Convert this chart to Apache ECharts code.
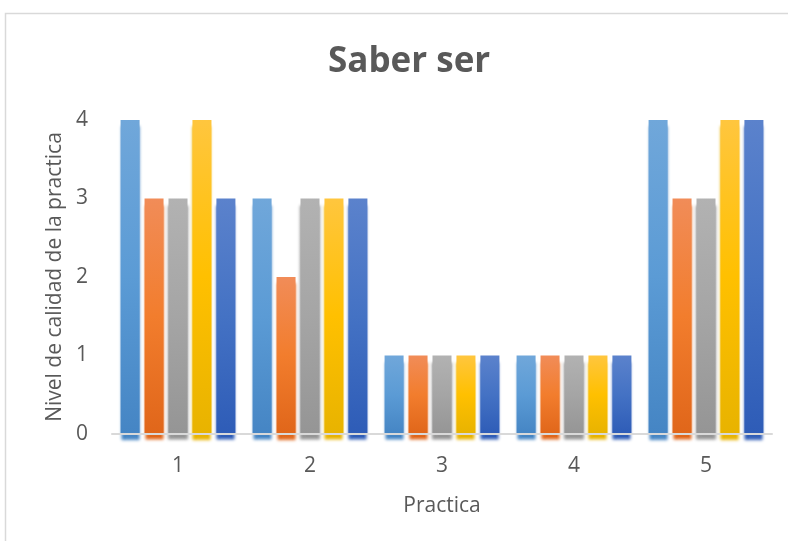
<!DOCTYPE html>
<html>
<head>
<meta charset="utf-8">
<script src="https://cdn.jsdelivr.net/npm/echarts@6/dist/echarts.min.js"></script>
<style>
html,body{margin:0;padding:0;background:#fff;}
#chart{width:788px;height:541px;}
</style>
</head>
<body>
<div id="chart"></div>
<script>
var categories = ['1', '2', '3', '4', '5'];
var serie1 = [4, 3, 1, 1, 4];
var serie2 = [3, 2, 1, 1, 3];
var serie3 = [3, 3, 1, 1, 3];
var serie4 = [4, 3, 1, 1, 4];
var serie5 = [3, 3, 1, 1, 4];
var yTicks = [0, 1, 2, 3, 4];

var palette = [
  ['#70A7DA', '#5B9BD5', '#4585C4'],
  ['#F18C58', '#F27D2D', '#E0661A'],
  ['#B2B2B2', '#A5A5A5', '#959595'],
  ['#FFC63E', '#FFC000', '#E8B300'],
  ['#5B82CC', '#4472C4', '#2E5CB7']
];
var seriesData = [serie1, serie2, serie3, serie4, serie5];

function makeSeries(data, i) {
  var c = palette[i];
  return {
    type: 'bar',
    name: 'Serie ' + (i + 1),
    data: data,
    z: 2,
    itemStyle: {
      color: {
        type: 'linear', x: 0, y: 0, x2: 0, y2: 1,
        colorStops: [
          {offset: 0, color: c[0]},
          {offset: 0.5, color: c[1]},
          {offset: 1, color: c[2]}
        ]
      },
      shadowColor: c[2],
      shadowOffsetY: 6,
      shadowBlur: 3
    }
  };
}

var chart = echarts.init(document.getElementById('chart'));
chart.setOption({
  backgroundColor: '#ffffff',
  animation: false,
  textStyle: {fontFamily: 'Open Sans'},
  graphic: [{
    type: 'rect',
    shape: {x: 5.5, y: 13.5, width: 900, height: 700},
    style: {fill: 'none', stroke: '#D9D9D9', lineWidth: 1.5},
    silent: true,
    z: -10
  }],
  title: {
    text: 'Saber ser',
    left: 323,
    top: 40,
    textStyle: {fontFamily: 'Open Sans', fontWeight: 'bold', fontSize: 35, color: '#595959'}
  },
  grid: {left: 112, right: 16, top: 120, bottom: 107},
  xAxis: {
    type: 'category',
    data: categories,
    z: 6,
    name: 'Practica',
    nameLocation: 'middle',
    nameGap: 62,
    nameTextStyle: {fontSize: 21, color: '#595959', fontFamily: 'Open Sans'},
    axisTick: {show: false},
    axisLine: {lineStyle: {color: '#D9D9D9', width: 2}},
    axisLabel: {fontSize: 21, color: '#595959', margin: 22, fontFamily: 'Open Sans'}
  },
  yAxis: {
    type: 'value',
    min: yTicks[0],
    max: yTicks[yTicks.length - 1],
    interval: 1,
    name: 'Nivel de calidad de la practica',
    nameLocation: 'middle',
    nameGap: 46,
    nameTextStyle: {fontSize: 21, color: '#595959', fontFamily: 'Open Sans'},
    axisLine: {show: false},
    axisTick: {show: false},
    splitLine: {show: false},
    axisLabel: {fontSize: 21, color: '#595959', margin: 24, fontFamily: 'Open Sans'}
  },
  series: seriesData.map(function (d, i) {
    var s = makeSeries(d, i);
    if (i === 0) { s.barCategoryGap = '13%'; s.barGap = '26%'; }
    return s;
  })
});
</script>
</body>
</html>
